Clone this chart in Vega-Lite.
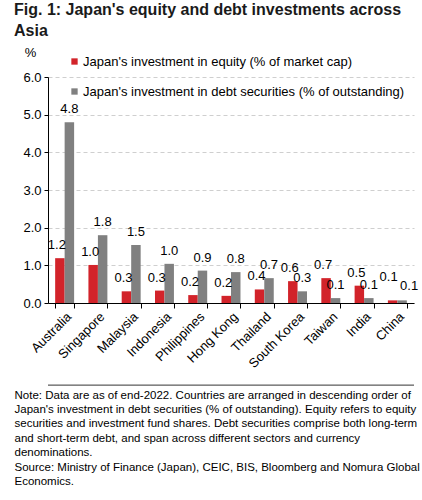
{
  "$schema": "https://vega.github.io/schema/vega-lite/v6.json",
  "width": 366,
  "height": 226,
  "autosize": {"type": "none"},
  "padding": {"left": 48, "top": 77, "right": 8, "bottom": 197},
  "background": "white",
  "config": {
    "font": "Liberation Sans",
    "view": {"stroke": null}
  },
  "title": {
    "text": ["Fig. 1: Japan's equity and debt investments across", "Asia"],
    "anchor": "start",
    "frame": "group",
    "fontSize": 16,
    "fontWeight": "bold",
    "color": "#1a1a1a",
    "lineHeight": 21,
    "dx": -34,
    "offset": 7
  },
  "data": {
    "values": [
      {"country": "Australia", "series": "equity", "value": 1.19},
      {"country": "Australia", "series": "debt", "value": 4.8},
      {"country": "Singapore", "series": "equity", "value": 1.01},
      {"country": "Singapore", "series": "debt", "value": 1.8},
      {"country": "Malaysia", "series": "equity", "value": 0.31},
      {"country": "Malaysia", "series": "debt", "value": 1.54},
      {"country": "Indonesia", "series": "equity", "value": 0.33},
      {"country": "Indonesia", "series": "debt", "value": 1.04},
      {"country": "Philippines", "series": "equity", "value": 0.21},
      {"country": "Philippines", "series": "debt", "value": 0.86},
      {"country": "Hong Kong", "series": "equity", "value": 0.19},
      {"country": "Hong Kong", "series": "debt", "value": 0.82},
      {"country": "Thailand", "series": "equity", "value": 0.36},
      {"country": "Thailand", "series": "debt", "value": 0.66},
      {"country": "South Korea", "series": "equity", "value": 0.58},
      {"country": "South Korea", "series": "debt", "value": 0.31},
      {"country": "Taiwan", "series": "equity", "value": 0.66},
      {"country": "Taiwan", "series": "debt", "value": 0.13},
      {"country": "India", "series": "equity", "value": 0.46},
      {"country": "India", "series": "debt", "value": 0.13},
      {"country": "China", "series": "equity", "value": 0.07},
      {"country": "China", "series": "debt", "value": 0.07}
    ]
  },
  "encoding": {
    "x": {
      "field": "country",
      "type": "nominal",
      "sort": ["Australia", "Singapore", "Malaysia", "Indonesia", "Philippines", "Hong Kong", "Thailand", "South Korea", "Taiwan", "India", "China"],
      "scale": {"paddingInner": 0.43, "paddingOuter": 0.215},
      "axis": {
        "labelAngle": -45,
        "labelFontSize": 13,
        "labelColor": "black",
        "labelPadding": 2,
        "domainColor": "black",
        "tickColor": "black",
        "tickBand": "extent",
        "tickSize": 5,
        "title": [
          "Note: Data are as of end-2022. Countries are arranged in descending order of",
          "Japan's investment in debt securities (% of outstanding). Equity refers to equity",
          "securities and investment fund shares. Debt securities comprise both long-term",
          "and short-term debt, and span across different sectors and currency",
          "denominations.",
          "Source: Ministry of Finance (Japan), CEIC, BIS, Bloomberg and Nomura Global",
          "Economics."
        ],
        "titleFontSize": 11.5,
        "titleFontWeight": "normal",
        "titleColor": "black",
        "titleAlign": "left",
        "titleBaseline": "top",
        "titleLineHeight": 14.4,
        "titleX": -34,
        "titleY": 86
      }
    },
    "xOffset": {
      "field": "series",
      "type": "nominal",
      "sort": ["equity", "debt"],
      "scale": {"paddingInner": 0}
    },
    "y": {
      "field": "value",
      "type": "quantitative",
      "scale": {"domain": [0, 6]},
      "axis": {
        "values": [0, 1, 2, 3, 4, 5, 6],
        "format": ".1f",
        "labelFontSize": 13,
        "labelColor": "black",
        "labelPadding": 3,
        "domainColor": "black",
        "tickColor": "black",
        "tickSize": 4,
        "gridColor": "#cfcfcf",
        "gridDash": [4, 3],
        "title": "%",
        "titleAngle": 0,
        "titleFontSize": 13,
        "titleFontWeight": "normal",
        "titleColor": "black",
        "titleAlign": "center",
        "titleBaseline": "middle",
        "titleX": -18,
        "titleY": -25
      }
    }
  },
  "layer": [
    {
      "mark": {"type": "bar"},
      "encoding": {
        "color": {
          "field": "series",
          "type": "nominal",
          "scale": {"domain": ["equity", "debt"], "range": ["#d2232a", "#808080"]},
          "legend": {
            "orient": "none",
            "legendX": 20,
            "legendY": -22,
            "title": null,
            "labelExpr": "datum.value == 'equity' ? \"Japan's investment in equity (% of market cap)\" : \"Japan's investment in debt securities (% of outstanding)\"",
            "symbolType": "square",
            "symbolSize": 40,
            "symbolStrokeWidth": 0,
            "labelFontSize": 13,
            "labelColor": "black",
            "labelOffset": 2,
            "rowPadding": 16,
            "labelLimit": 400
          }
        }
      }
    },
    {
      "transform": [{"filter": "datum.series == 'equity' && datum.country != 'China'"}],
      "mark": {"type": "text", "baseline": "alphabetic", "dy": -9, "dx": -3, "fontSize": 13, "color": "black"},
      "encoding": {"text": {"field": "value", "type": "quantitative", "format": ".1f"}}
    },
    {
      "transform": [{"filter": "datum.series == 'debt' && datum.country != 'China'"}],
      "mark": {"type": "text", "baseline": "alphabetic", "dy": -9, "fontSize": 13, "color": "black"},
      "encoding": {"text": {"field": "value", "type": "quantitative", "format": ".1f"}}
    },
    {
      "transform": [{"filter": "datum.series == 'equity' && datum.country == 'China'"}],
      "mark": {"type": "text", "baseline": "alphabetic", "dy": -19, "dx": -4, "fontSize": 13, "color": "black"},
      "encoding": {"text": {"field": "value", "type": "quantitative", "format": ".1f"}}
    },
    {
      "transform": [{"filter": "datum.series == 'debt' && datum.country == 'China'"}],
      "mark": {"type": "text", "baseline": "alphabetic", "dy": -10, "dx": 7, "fontSize": 13, "color": "black"},
      "encoding": {"text": {"field": "value", "type": "quantitative", "format": ".1f"}}
    },
    {
      "data": {"values": [{"sep": -2.18}]},
      "mark": {"type": "rule", "color": "#333333", "strokeWidth": 1},
      "encoding": {"y": {"field": "sep", "type": "quantitative"}, "xOffset": null, "x": null}
    }
  ]
}
